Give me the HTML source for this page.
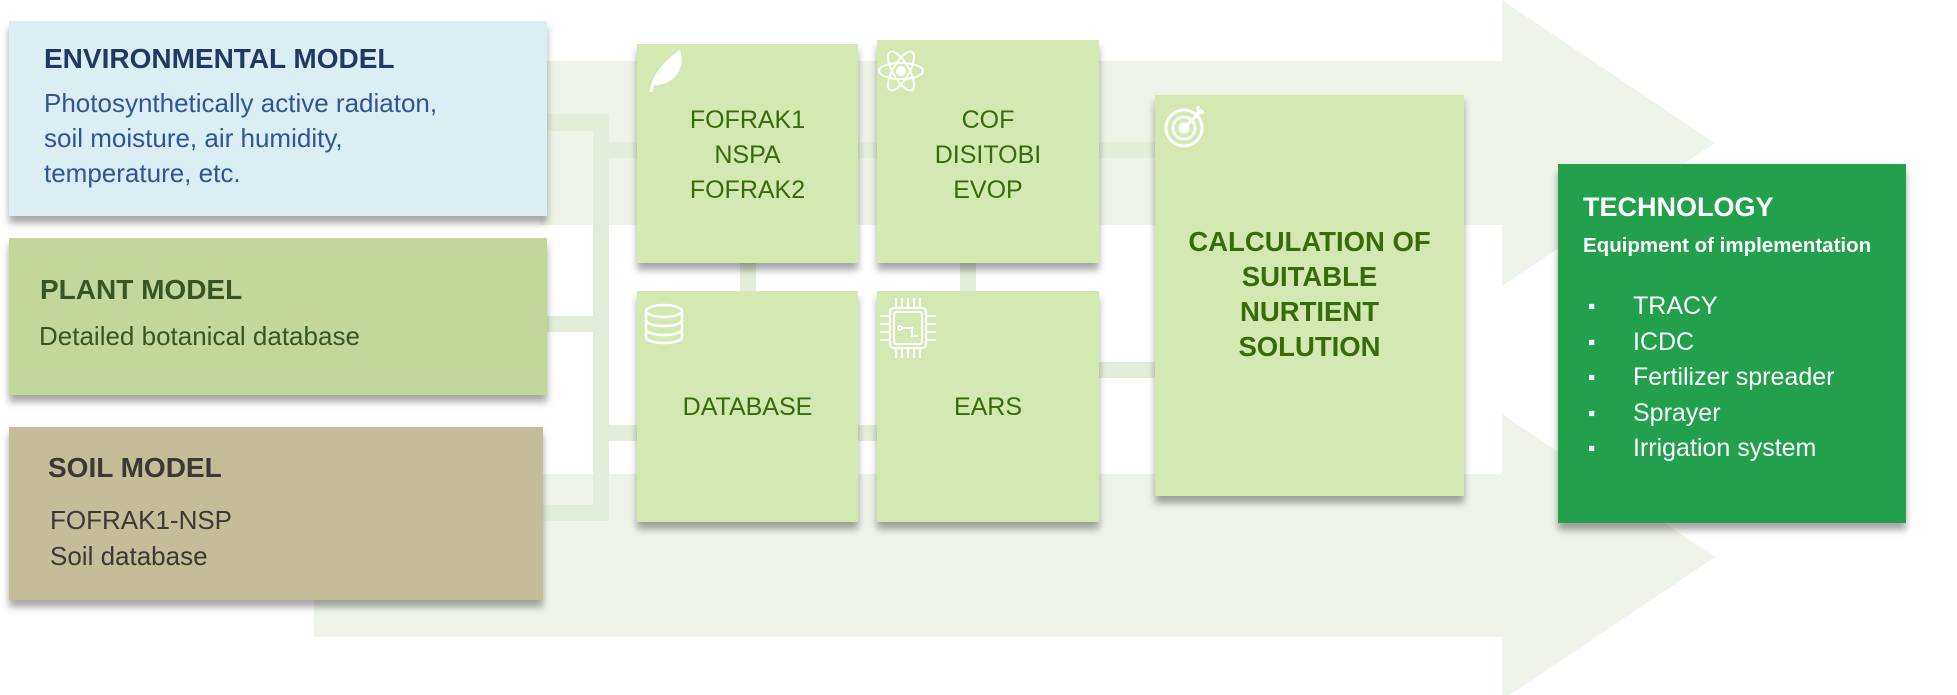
<!DOCTYPE html>
<html><head><meta charset="utf-8"><style>
body{margin:0;width:1957px;height:695px;position:relative;overflow:hidden;background:#fff;font-family:"Liberation Sans",sans-serif;}
.a{position:absolute}
.box{position:absolute;box-shadow:0 7px 7px rgba(0,0,0,0.35);}
.s{position:absolute;background:#e2eed9}
.t{position:absolute;white-space:nowrap}
.g{color:#376b0c;font-size:25px;text-align:center;line-height:35px}
</style></head><body>
<svg class="a" style="left:0;top:0" width="1957" height="695">
<polygon points="540,61 1502,61 1502,0 1715,143 1502,286 1502,225 540,225" fill="#eef4e9"/>
<polygon points="314,474 1502,474 1502,414 1715,557 1502,700 1502,637 314,637" fill="#eef4e9"/>
</svg>
<div class="s" style="left:540px;top:114px;width:69px;height:17px"></div>
<div class="s" style="left:540px;top:316px;width:69px;height:16px"></div>
<div class="s" style="left:540px;top:505px;width:69px;height:16px"></div>
<div class="s" style="left:593px;top:114px;width:16px;height:407px"></div>
<div class="s" style="left:609px;top:142px;width:30px;height:16px"></div>
<div class="s" style="left:609px;top:425px;width:30px;height:16px"></div>
<div class="s" style="left:740px;top:260px;width:16px;height:34px"></div>
<div class="s" style="left:960px;top:260px;width:16px;height:34px"></div>
<div class="s" style="left:855px;top:142px;width:302px;height:16px"></div>
<div class="s" style="left:855px;top:425px;width:25px;height:16px"></div>
<div class="s" style="left:1097px;top:362px;width:60px;height:16px"></div>

<div class="box" style="left:9px;top:21px;width:538px;height:195px;background:#dbeef4"></div>
<div class="t" style="left:44px;top:43px;font-size:28px;font-weight:bold;color:#1f3864">ENVIRONMENTAL MODEL</div>
<div class="t" style="left:44px;top:86px;font-size:26px;line-height:35px;color:#2f5597">Photosynthetically active radiaton,<br>soil moisture, air humidity,<br>temperature, etc.</div>

<div class="box" style="left:9px;top:238px;width:538px;height:157px;background:#c4d79b"></div>
<div class="t" style="left:40px;top:274px;font-size:28px;font-weight:bold;color:#375623">PLANT MODEL</div>
<div class="t" style="left:39px;top:321px;font-size:26px;color:#375623">Detailed botanical database</div>

<div class="box" style="left:9px;top:427px;width:534px;height:173px;background:#c4bd97"></div>
<div class="t" style="left:48px;top:452px;font-size:28px;font-weight:bold;color:#3b3838">SOIL MODEL</div>
<div class="t" style="left:50px;top:502px;font-size:26px;line-height:36px;color:#3b3838">FOFRAK1-NSP<br>Soil database</div>

<div class="box" style="left:637px;top:44px;width:221px;height:219px;background:#d3e9b1"></div>
<div class="t g" style="left:637px;top:103px;width:221px">FOFRAK1<br>NSPA<br>FOFRAK2</div>
<div class="box" style="left:877px;top:40px;width:222px;height:223px;background:#d3e9b1"></div>
<div class="t g" style="left:877px;top:103px;width:222px">COF<br>DISITOBI<br>EVOP</div>
<div class="box" style="left:637px;top:291px;width:221px;height:231px;background:#d3e9b1"></div>
<div class="t g" style="left:637px;top:390px;width:221px">DATABASE</div>
<div class="box" style="left:877px;top:291px;width:222px;height:231px;background:#d3e9b1"></div>
<div class="t g" style="left:877px;top:390px;width:222px">EARS</div>
<div class="box" style="left:1155px;top:95px;width:309px;height:401px;background:#d3e9b1"></div>
<div class="t" style="left:1155px;top:224px;width:309px;text-align:center;font-size:27.5px;font-weight:bold;line-height:35px;color:#376b0c">CALCULATION OF<br>SUITABLE<br>NURTIENT<br>SOLUTION</div>

<div class="box" style="left:1558px;top:164px;width:348px;height:359px;background:#22a04b"></div>
<div class="t" style="left:1583px;top:192px;font-size:27px;font-weight:bold;color:#fff">TECHNOLOGY</div>
<div class="t" style="left:1583px;top:234px;font-size:20.5px;font-weight:bold;color:#fff">Equipment of implementation</div>
<div class="t" style="left:1588px;top:289px;font-size:21px;line-height:35.5px;color:#fff">▪<br>▪<br>▪<br>▪<br>▪</div>
<div class="t" style="left:1633px;top:289px;font-size:25px;line-height:35.5px;color:#fff">TRACY<br>ICDC<br>Fertilizer spreader<br>Sprayer<br>Irrigation system</div>

<svg class="a" style="left:645px;top:48px" width="40" height="46" fill="none" stroke="#fff" stroke-width="3">
<path d="M6 44 C8 30 16 18 34 4 C38 20 30 34 10 36" fill="#fff"/></svg>
<svg class="a" style="left:876px;top:46px" width="50" height="50" fill="none" stroke="#fff" stroke-width="2">
<ellipse cx="25" cy="25" rx="22" ry="8"/><ellipse cx="25" cy="25" rx="22" ry="8" transform="rotate(60 25 25)"/><ellipse cx="25" cy="25" rx="22" ry="8" transform="rotate(-60 25 25)"/><circle cx="25" cy="25" r="4" fill="#fff"/></svg>
<svg class="a" style="left:644px;top:303px" width="44" height="44" fill="none" stroke="#fff" stroke-width="2.5">
<ellipse cx="20" cy="8" rx="18" ry="6"/><path d="M2 8v26c0 8 36 8 36 0V8M2 17c0 8 36 8 36 0M2 26c0 8 36 8 36 0"/></svg>
<svg class="a" style="left:880px;top:298px" width="56" height="60" fill="none" stroke="#fff" stroke-width="2">
<rect x="10" y="10" width="36" height="40" rx="4"/><rect x="14" y="14" width="28" height="32" rx="2"/><path d="M16 0v10M22 0v10M28 0v10M34 0v10M40 0v10M16 50v10M22 50v10M28 50v10M34 50v10M40 50v10M0 18h10M0 26h10M0 34h10M0 42h10M46 18h10M46 26h10M46 34h10M46 42h10M22 30h10v8h6"/><circle cx="20" cy="30" r="2"/></svg>
<svg class="a" style="left:1164px;top:102px" width="46" height="48" fill="none" stroke="#fff" stroke-width="3">
<circle cx="20" cy="26" r="18"/><circle cx="20" cy="26" r="11"/><circle cx="20" cy="26" r="4" fill="#fff"/><path d="M22 24L38 8M34 4v6h6"/></svg>
</body></html>
